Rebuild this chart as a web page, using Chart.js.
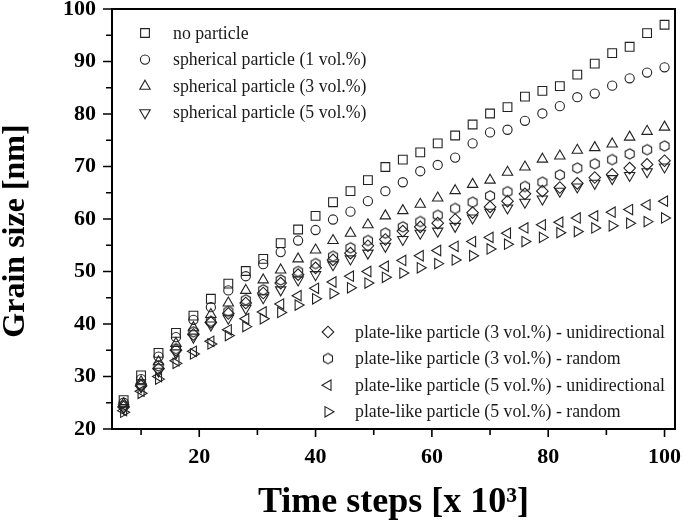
<!DOCTYPE html>
<html>
<head>
<meta charset="utf-8">
<script src="https://cdn.jsdelivr.net/npm/chart.js@4.4.1/dist/chart.umd.min.js"></script>
<style>
  html, body { margin: 0; padding: 0; background: #fff; }
  #wrap { width: 685px; height: 525px; }
</style>
</head>
<body>
<div id="wrap"><canvas id="chart-grain"></canvas></div>
<script>
// Grain size vs. time steps, eight simulation cases (scatter only).

const TIME_STEPS = [7, 10, 13, 16, 19, 22, 25, 28, 31, 34, 37, 40, 43, 46, 49, 52,
                    55, 58, 61, 64, 67, 70, 73, 76, 79, 82, 85, 88, 91, 94, 97, 100];

const NO_PARTICLE  = [25.5, 30.2, 34.5, 38.3, 41.6, 44.8, 47.7, 50.1, 52.4, 55.4, 58.0, 60.6, 63.2, 65.3, 67.4, 69.9,
                      71.3, 72.7, 74.4, 75.9, 78.0, 80.1, 81.3, 83.3, 84.4, 85.3, 87.5, 89.6, 91.6, 92.8, 95.4, 97.0];
const SPHERE_1     = [25.0, 29.5, 33.8, 37.5, 40.8, 43.2, 46.4, 49.1, 51.4, 53.7, 55.9, 57.9, 59.9, 61.4, 63.4, 65.3,
                      67.0, 69.1, 70.3, 71.7, 74.4, 76.5, 77.0, 78.7, 80.1, 81.5, 83.2, 83.9, 85.4, 86.8, 87.9, 88.9];
const SPHERE_3     = [24.8, 29.0, 32.8, 36.3, 39.3, 41.8, 44.0, 46.4, 48.4, 50.3, 52.4, 54.1, 55.9, 57.3, 58.9, 60.6,
                      61.6, 62.8, 64.0, 65.4, 66.6, 67.4, 68.9, 69.9, 71.4, 72.0, 73.1, 73.6, 74.3, 75.6, 76.7, 77.5];
const SPHERE_5     = [24.0, 28.0, 31.0, 34.5, 37.5, 39.8, 41.1, 43.0, 45.0, 46.5, 48.4, 49.4, 51.3, 52.4, 53.5, 54.8,
                      56.1, 57.3, 57.7, 58.6, 60.2, 61.3, 62.1, 63.2, 63.8, 65.3, 66.1, 66.8, 67.7, 68.3, 69.0, 69.9];
const PLATE_3_UNI  = [24.2, 28.2, 31.5, 35.0, 38.0, 40.3, 42.0, 44.0, 45.9, 47.8, 49.4, 50.7, 52.2, 53.5, 54.9, 56.1,
                      57.7, 58.5, 59.2, 59.9, 61.2, 62.3, 63.4, 64.8, 65.3, 66.0, 66.8, 67.9, 68.5, 69.7, 70.4, 71.1];
const PLATE_3_RAND = [24.5, 28.5, 32.0, 35.3, 38.5, 40.5, 42.4, 44.6, 46.5, 48.4, 50.0, 51.5, 52.9, 54.5, 55.9, 57.3,
                      58.5, 59.5, 60.7, 62.0, 63.2, 64.4, 65.2, 66.2, 67.0, 68.4, 69.7, 70.5, 71.3, 72.4, 73.2, 73.9];
const PLATE_5_UNI  = [23.5, 27.2, 30.0, 33.0, 34.8, 36.7, 38.9, 41.0, 42.3, 43.8, 45.4, 46.8, 48.0, 49.1, 50.0, 51.0,
                      52.1, 53.0, 54.0, 54.8, 55.7, 56.5, 57.3, 58.3, 58.9, 59.4, 60.2, 60.6, 61.3, 61.8, 62.7, 63.4];
const PLATE_5_RAND = [23.2, 26.8, 29.5, 32.5, 34.3, 36.2, 37.8, 39.5, 41.0, 42.2, 43.6, 44.8, 45.8, 46.9, 47.8, 48.9,
                      49.7, 50.7, 51.5, 52.2, 53.0, 54.3, 55.2, 55.7, 56.5, 57.4, 57.6, 58.3, 58.7, 59.2, 59.5, 60.2];

const SERIES_LABELS = [
  'no particle',
  'spherical particle (1 vol.%)',
  'spherical particle (3 vol.%)',
  'spherical particle (5 vol.%)',
  'plate-like particle (3 vol.%) - unidirectional',
  'plate-like particle (3 vol.%) - random',
  'plate-like particle (5 vol.%) - unidirectional',
  'plate-like particle (5 vol.%) - random'
];

const X_TICKS = [20, 40, 60, 80, 100];
const Y_TICKS = [20, 30, 40, 50, 60, 70, 80, 90, 100];

const INK   = '#222';
const SERIF = "'Liberation Serif', 'Times New Roman', serif";

// ── Hexagon marker (not a built-in point style) ─────────────────────────────
function makeHexagon(r) {
  const s = Math.ceil(r * 2 + 3);
  const c = document.createElement('canvas');
  c.width = s;
  c.height = s;
  const g = c.getContext('2d');
  g.strokeStyle = INK;
  g.lineWidth = 1.1;
  g.beginPath();
  for (let i = 0; i < 6; i++) {
    const a = -Math.PI / 2 + i * Math.PI / 3;
    const px = s / 2 + r * Math.cos(a);
    const py = s / 2 + r * Math.sin(a);
    if (i === 0) g.moveTo(px, py); else g.lineTo(px, py);
  }
  g.closePath();
  g.stroke();
  return c;
}

// style per series: [pointStyle, radius, rotation]
const MARKERS = [
  ['rect',     6.2, 0],
  ['circle',   4.6, 0],
  ['triangle', 6.0, 0],
  ['triangle', 6.0, 180],
  ['rectRot',  5.8, 0],
  [makeHexagon(5.2), 5.2, 0],
  ['triangle', 6.0, 270],
  ['triangle', 6.0, 90]
];

const SERIES_VALUES = [NO_PARTICLE, SPHERE_1, SPHERE_3, SPHERE_5,
                       PLATE_3_UNI, PLATE_3_RAND, PLATE_5_UNI, PLATE_5_RAND];

const datasets = SERIES_VALUES.map((vals, i) => ({
  label: SERIES_LABELS[i],
  data: TIME_STEPS.map((t, k) => ({ x: t, y: vals[k] })),
  showLine: false,
  pointStyle: MARKERS[i][0],
  pointRadius: MARKERS[i][1],
  pointRotation: MARKERS[i][2],
  borderColor: INK,
  backgroundColor: 'transparent',
  borderWidth: 1.1
}));

// ── Frame + major/minor tick marks ──────────────────────────────────────────
const frameTicks = {
  id: 'frameTicks',
  afterDraw(chart) {
    const { ctx, chartArea: a, scales: { x, y } } = chart;
    ctx.save();
    ctx.strokeStyle = '#000';
    ctx.lineWidth = 1.6;
    ctx.beginPath();
    for (let v = 10; v <= 100; v += 10) {
      const px = x.getPixelForValue(v);
      ctx.moveTo(px, a.bottom);
      ctx.lineTo(px, a.bottom + (v % 20 === 0 ? 8 : 6));
    }
    for (let v = 20; v <= 100; v += 5) {
      const py = y.getPixelForValue(v);
      ctx.moveTo(a.left, py);
      ctx.lineTo(a.left - (v % 10 === 0 ? 9 : 6), py);
    }
    ctx.stroke();
    ctx.lineWidth = 2;
    ctx.strokeRect(a.left, a.top, a.right - a.left, a.bottom - a.top);
    ctx.restore();
  }
};

// ── Two in-plot legend blocks (top-left, bottom-right) ─────────────────────
const legendBlocks = {
  id: 'legendBlocks',
  afterDatasetsDraw(chart) {
    const { ctx, chartArea: a } = chart;
    const blocks = [
      { idx: [0, 1, 2, 3], mx: a.left + 33,  tx: a.left + 61,  y0: a.top + 24 },
      { idx: [4, 5, 6, 7], mx: a.left + 216, tx: a.left + 243, y0: a.top + 323 }
    ];
    ctx.save();
    ctx.font = '17.8px ' + SERIF;
    ctx.textBaseline = 'middle';
    ctx.fillStyle = '#1a1a1a';
    blocks.forEach(b => {
      b.idx.forEach((di, row) => {
        const ds = chart.data.datasets[di];
        const yy = b.y0 + row * 26.6;
        ctx.save();
        ctx.strokeStyle = INK;
        ctx.fillStyle = 'transparent';
        ctx.lineWidth = 1.1;
        Chart.helpers.drawPoint(ctx, {
          pointStyle: ds.pointStyle,
          radius: ds.pointRadius,
          rotation: ds.pointRotation,
          borderWidth: 1.1
        }, b.mx, yy);
        ctx.restore();
        ctx.fillText(ds.label, b.tx, yy + 1);
      });
    });
    ctx.restore();
  }
};

new Chart(document.getElementById('chart-grain').getContext('2d'), {
  type: 'scatter',
  data: { datasets },
  options: {
    responsive: true,
    maintainAspectRatio: false,
    animation: false,
    layout: { padding: { left: 0, top: 9, right: 10, bottom: 0 } },
    plugins: {
      legend: { display: false },
      tooltip: { enabled: false }
    },
    scales: {
      x: {
        type: 'linear',
        min: 5,
        max: 101.8,
        afterBuildTicks: axis => { axis.ticks = X_TICKS.map(v => ({ value: v })); },
        afterFit: axis => { axis.height = 96; axis.paddingLeft = 0; axis.paddingRight = 0; },
        grid: { display: false },
        border: { display: false },
        ticks: {
          color: '#000',
          padding: 9,
          maxRotation: 0,
          font: { family: SERIF, size: 22, weight: 'bold', lineHeight: 1 }
        },
        title: {
          display: true,
          text: 'Time steps [x 10\u00B3]',
          color: '#000',
          padding: { top: 0, bottom: 4 },
          font: { family: SERIF, size: 36, weight: 'bold', lineHeight: 1 }
        }
      },
      y: {
        type: 'linear',
        min: 20,
        max: 100,
        afterBuildTicks: axis => { axis.ticks = Y_TICKS.map(v => ({ value: v })); },
        afterFit: axis => { axis.width = 112; axis.paddingTop = 0; axis.paddingBottom = 0; },
        grid: { display: false },
        border: { display: false },
        ticks: {
          color: '#000',
          padding: 8,
          font: { family: SERIF, size: 22, weight: 'bold', lineHeight: 1 }
        },
        title: {
          display: true,
          text: 'Grain size [nm]   ',
          color: '#000',
          padding: { top: 0, bottom: 0 },
          font: { family: SERIF, size: 32, weight: 'bold', lineHeight: 1 }
        }
      }
    }
  },
  plugins: [frameTicks, legendBlocks]
});
</script>
</body>
</html>
